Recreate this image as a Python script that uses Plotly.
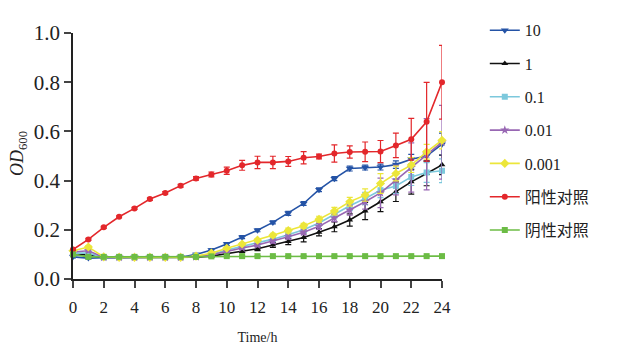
import plotly.graph_objects as go

time_h = list(range(25))

series_names = ["10", "1", "0.1", "0.01", "0.001", "阳性对照", "阴性对照"]

od_10 = [0.090, 0.085, 0.087, 0.087, 0.087, 0.087, 0.087, 0.088, 0.100, 0.118, 0.142, 0.170, 0.198,
         0.230, 0.267, 0.307, 0.363, 0.408, 0.449, 0.453, 0.455, 0.465, 0.487, 0.500, 0.548]
err_10 = [0.004, 0.003, 0.003, 0.003, 0.003, 0.003, 0.003, 0.003, 0.004, 0.005, 0.006, 0.006, 0.006,
          0.006, 0.008, 0.008, 0.008, 0.008, 0.01, 0.01, 0.012, 0.015, 0.02, 0.02, 0.045]

od_1 = [0.105, 0.095, 0.088, 0.088, 0.088, 0.088, 0.088, 0.088, 0.089, 0.093, 0.104, 0.114, 0.123,
        0.138, 0.152, 0.169, 0.190, 0.212, 0.240, 0.276, 0.314, 0.355, 0.395, 0.429, 0.464]
err_1 = [0.004, 0.003, 0.003, 0.003, 0.003, 0.003, 0.003, 0.003, 0.003, 0.004, 0.005, 0.006, 0.008,
         0.01, 0.012, 0.018, 0.015, 0.02, 0.025, 0.035, 0.04, 0.04, 0.05, 0.05, 0.04]

od_0_1 = [0.105, 0.105, 0.088, 0.088, 0.088, 0.088, 0.088, 0.088, 0.092, 0.100, 0.118, 0.132, 0.145,
          0.162, 0.180, 0.200, 0.228, 0.262, 0.298, 0.327, 0.361, 0.378, 0.415, 0.433, 0.440]
err_0_1 = [0.004, 0.004, 0.003, 0.003, 0.003, 0.003, 0.003, 0.003, 0.003, 0.004, 0.005, 0.006, 0.006,
           0.008, 0.01, 0.012, 0.012, 0.015, 0.02, 0.025, 0.03, 0.03, 0.035, 0.04, 0.048]

od_0_01 = [0.110, 0.115, 0.088, 0.088, 0.088, 0.088, 0.088, 0.088, 0.090, 0.098, 0.113, 0.126, 0.138,
           0.154, 0.172, 0.190, 0.214, 0.248, 0.280, 0.314, 0.350, 0.402, 0.453, 0.507, 0.556]
err_0_01 = [0.004, 0.005, 0.003, 0.003, 0.003, 0.003, 0.003, 0.003, 0.003, 0.004, 0.005, 0.006, 0.006,
            0.008, 0.01, 0.01, 0.012, 0.015, 0.02, 0.03, 0.06, 0.06, 0.1, 0.145, 0.15]

od_0_001 = [0.115, 0.130, 0.090, 0.088, 0.088, 0.088, 0.088, 0.088, 0.093, 0.105, 0.125, 0.142, 0.158,
            0.178, 0.197, 0.216, 0.243, 0.276, 0.314, 0.341, 0.388, 0.429, 0.463, 0.517, 0.564]
err_0_001 = [0.004, 0.006, 0.003, 0.003, 0.003, 0.003, 0.003, 0.003, 0.003, 0.004, 0.005, 0.006, 0.006,
             0.008, 0.01, 0.01, 0.012, 0.015, 0.018, 0.025, 0.04, 0.03, 0.03, 0.03, 0.035]

od_pos = [0.120, 0.161, 0.210, 0.253, 0.287, 0.325, 0.350, 0.379, 0.409, 0.425, 0.440, 0.462, 0.474,
          0.474, 0.478, 0.493, 0.498, 0.510, 0.516, 0.517, 0.518, 0.543, 0.568, 0.639, 0.800]
err_pos = [0.004, 0.004, 0.004, 0.004, 0.004, 0.005, 0.005, 0.006, 0.007, 0.01, 0.015, 0.02, 0.025,
           0.025, 0.02, 0.025, 0.01, 0.035, 0.025, 0.04, 0.045, 0.05, 0.085, 0.16, 0.15]

od_neg = [0.100, 0.090, 0.090, 0.090, 0.090, 0.090, 0.090, 0.090, 0.090, 0.092, 0.093, 0.093, 0.093,
          0.093, 0.093, 0.093, 0.093, 0.093, 0.093, 0.093, 0.093, 0.093, 0.093, 0.093, 0.093]
err_neg = [0.002] * 25

x_ticks = list(range(0, 25, 2))
y_ticks = [0.0, 0.2, 0.4, 0.6, 0.8, 1.0]
y_tick_text = ["0.0", "0.2", "0.4", "0.6", "0.8", "1.0"]

values = [od_10, od_1, od_0_1, od_0_01, od_0_001, od_pos, od_neg]
errors = [err_10, err_1, err_0_1, err_0_01, err_0_001, err_pos, err_neg]
colors = ["#2453a6", "#111111", "#7cc8dc", "#9867b3", "#ece63a", "#e3272b", "#6cbc45"]
symbols = ["triangle-down", "triangle-up", "square", "star", "diamond", "circle", "square"]
sizes = [7, 6, 6, 7, 7, 6, 6]

fig = go.Figure()
for i, name in enumerate(series_names):
    fig.add_trace(go.Scatter(
        x=time_h, y=values[i], name=name, mode="lines+markers",
        legendgroup=f"g{i}",
        line=dict(color=colors[i], width=1.6),
        marker=dict(symbol=symbols[i], size=sizes[i], color=colors[i]),
        error_y=dict(type="data", array=errors[i], visible=True, color=colors[i],
                     thickness=1.2, width=3),
        cliponaxis=False,
    ))

serif = "Liberation Serif, Times New Roman, serif"
fig.update_layout(
    width=631, height=356,
    margin=dict(l=65, r=197, t=25, b=85, autoexpand=False),
    paper_bgcolor="white", plot_bgcolor="white",
    font=dict(family=serif, color="#222222"),
    showlegend=True,
    legend=dict(x=1.116, y=1.08, xanchor="left", yanchor="top",
                font=dict(family="Liberation Serif, Noto Sans CJK SC, serif", size=16, color="#222"),
                tracegroupgap=9.5, itemwidth=30, bgcolor="rgba(0,0,0,0)", maxheight=400),
    xaxis=dict(range=[0, 24], tickvals=x_ticks, ticks="outside", ticklen=7, tickwidth=1.5,
               showline=True, linecolor="#222", linewidth=1.5, showgrid=False, zeroline=False,
               automargin=False, ticklabelstandoff=5,
               tickfont=dict(family=serif, size=17, color="#222"),
               title=dict(text="Time/h", font=dict(family=serif, size=14, color="#222"), standoff=16)),
    yaxis=dict(range=[0, 1.0], tickvals=y_ticks, ticktext=y_tick_text, ticks="outside", ticklen=7,
               tickwidth=1.5, showline=True, linecolor="#222", linewidth=1.5, showgrid=False,
               zeroline=False, automargin=False, tickfont=dict(family=serif, size=21, color="#222")),
    annotations=[dict(text="<i>OD</i><sub>600</sub>", xref="paper", yref="paper",
                      x=-0.148, y=0.51, xanchor="center", yanchor="middle",
                      textangle=-90, showarrow=False,
                      font=dict(family=serif, size=18, color="#222"))],
)

fig.write_html("out.html")
